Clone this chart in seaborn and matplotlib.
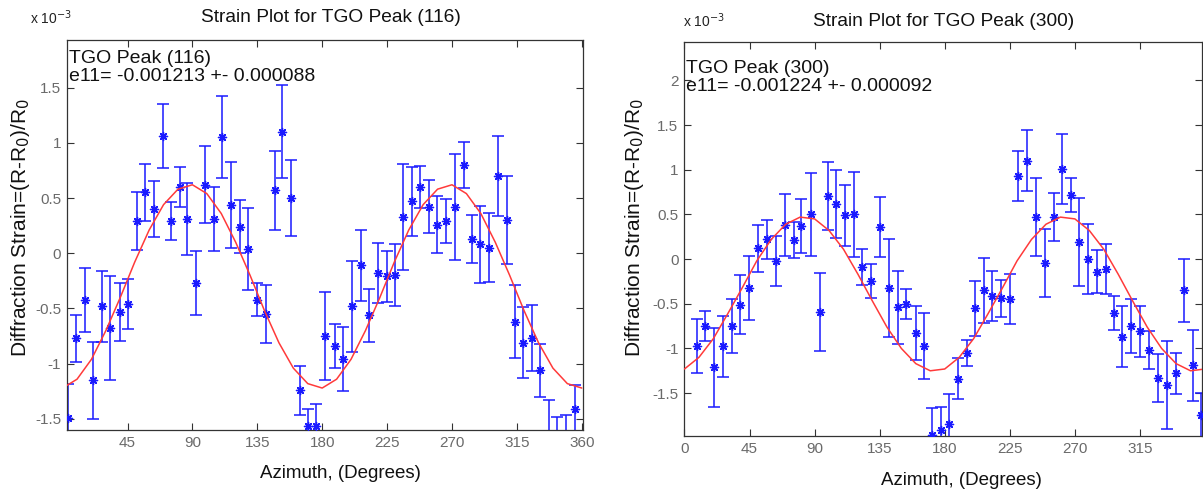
import numpy as np
import pandas as pd
import matplotlib
matplotlib.use('Agg')
import matplotlib.pyplot as plt
import seaborn as sns

# values in units of 1e-3 strain
az_116 = [3.9, 9.2, 15.5, 21.2, 27.4, 33.2, 39.7, 45.4, 51.7, 57.4, 63.4, 69.7, 75.4, 81.2, 86.5,
          92.3, 99.0, 104.8, 110.8, 116.5, 122.7, 128.5, 134.8, 140.8, 147.0, 152.3, 158.5, 164.3,
          170.1, 175.8, 182.1, 188.6, 194.6, 200.8, 207.0, 212.8, 218.6, 224.6, 230.8, 236.1, 242.3,
          248.1, 253.9, 259.7, 265.9, 271.9, 278.1, 283.9, 289.7, 295.4, 301.9, 308.1, 313.9, 319.2,
          325.4, 331.2, 337.6, 343.1, 349.1, 355.4]
strain_116 = [-1.49, -0.77, -0.42, -1.15, -0.48, -0.68, -0.53, -0.46, 0.29, 0.55, 0.40, 1.06, 0.29,
              0.60, 0.31, -0.27, 0.62, 0.31, 1.05, 0.44, 0.24, 0.04, -0.42, -0.55, 0.57, 1.10, 0.50,
              -1.24, -1.56, -1.56, -0.75, -0.84, -0.96, -0.48, -0.11, -0.56, -0.18, -0.21, -0.20,
              0.33, 0.47, 0.60, 0.42, 0.26, 0.29, 0.42, 0.80, 0.13, 0.08, 0.05, 0.70, 0.30, -0.62,
              -0.81, -0.77, -1.06, -1.70, -1.70, -1.68, -1.41]
err_116 = [0.31, 0.21, 0.29, 0.35, 0.32, 0.47, 0.26, 0.23, 0.26, 0.26, 0.25, 0.29, 0.17, 0.18, 0.33,
           0.29, 0.35, 0.29, 0.37, 0.39, 0.24, 0.37, 0.15, 0.26, 0.36, 0.42, 0.34, 0.22, 0.15, 0.20,
           0.40, 0.20, 0.29, 0.41, 0.32, 0.24, 0.27, 0.23, 0.28, 0.48, 0.31, 0.19, 0.24, 0.26, 0.20,
           0.48, 0.21, 0.22, 0.35, 0.31, 0.36, 0.40, 0.33, 0.32, 0.30, 0.24, 0.37, 0.22, 0.22, 0.22]

az_300 = [8.5, 14.5, 20.3, 26.5, 32.8, 38.5, 44.5, 51.2, 57.0, 63.5, 69.2, 75.5, 80.8, 87.7, 93.5,
          99.5, 105.0, 111.0, 117.0, 123.0, 129.2, 135.5, 141.5, 147.7, 153.5, 159.9, 165.7, 171.5,
          177.3, 182.8, 189.0, 195.5, 200.8, 207.0, 212.8, 218.8, 224.8, 230.8, 237.0, 243.3, 249.3,
          255.5, 261.3, 267.5, 273.2, 279.2, 285.0, 291.2, 297.0, 302.8, 309.0, 315.0, 321.3, 327.5,
          333.5, 339.7, 345.5, 351.7, 357.5]
strain_300 = [-0.975, -0.75, -1.21, -0.975, -0.75, -0.51, -0.32, 0.12, 0.22, -0.02, 0.38, 0.21, 0.37,
              0.50, -0.59, 0.71, 0.62, 0.49, 0.50, -0.09, -0.24, 0.36, -0.32, -0.54, -0.50, -0.83,
              -0.975, -1.97, -1.91, -1.85, -1.34, -1.05, -0.55, -0.35, -0.41, -0.44, -0.45, 0.93, 1.10,
              0.47, -0.04, 0.47, 1.01, 0.72, 0.19, 0.00, -0.14, -0.11, -0.60, -0.87, -0.75, -0.81,
              -1.02, -1.33, -1.41, -1.28, -0.35, -1.19, -1.75]
err_300 = [0.30, 0.17, 0.44, 0.34, 0.30, 0.33, 0.36, 0.26, 0.22, 0.28, 0.35, 0.20, 0.30, 0.46, 0.44,
           0.38, 0.38, 0.34, 0.48, 0.20, 0.19, 0.34, 0.55, 0.41, 0.17, 0.30, 0.37, 0.30, 0.26, 0.34,
           0.23, 0.15, 0.31, 0.36, 0.28, 0.21, 0.28, 0.28, 0.34, 0.44, 0.38, 0.27, 0.39, 0.19, 0.49,
           0.39, 0.24, 0.28, 0.19, 0.34, 0.30, 0.29, 0.21, 0.27, 0.49, 0.23, 0.35, 0.40, 0.25]

# red fitted curves, read every 10 degrees
fit_az = list(range(0, 361, 10))
fit_116 = [-1.22, -1.14, -0.96, -0.70, -0.40, -0.08, 0.21, 0.44, 0.58, 0.62, 0.54, 0.36, 0.10,
           -0.20, -0.52, -0.81, -1.04, -1.18, -1.22, -1.14, -0.96, -0.70, -0.40, -0.08, 0.21,
           0.44, 0.58, 0.62, 0.54, 0.36, 0.10, -0.20, -0.52, -0.81, -1.04, -1.18, -1.22]
fit_300 = [-1.23, -1.10, -0.89, -0.61, -0.32, -0.02, 0.22, 0.39, 0.47, 0.45, 0.32, 0.11, -0.17,
           -0.47, -0.76, -1.00, -1.17, -1.25, -1.23, -1.10, -0.89, -0.61, -0.32, -0.02, 0.22,
           0.39, 0.47, 0.45, 0.32, 0.11, -0.17, -0.47, -0.76, -1.00, -1.17, -1.25, -1.23]

peaks = ["(116)", "(300)"]
e11_text = ["e11= -0.001213 +- 0.000088", "e11= -0.001224 +- 0.000092"]
x_ticks_116 = [45, 90, 135, 180, 225, 270, 315, 360]
x_ticks_300 = [0, 45, 90, 135, 180, 225, 270, 315]
y_ticks_116 = [-1.5, -1, -0.5, 0, 0.5, 1, 1.5]
y_ticks_300 = [-1.5, -1, -0.5, 0, 0.5, 1, 1.5, 2]

sns.set_theme(style="ticks")
plt.rcParams['font.family'] = ['Liberation Sans', 'DejaVu Sans']

fig = plt.figure(figsize=(12.03, 4.9), dpi=100)
ax1 = fig.add_axes([0.0554, 0.1224, 0.4294, 0.7959])
ax2 = fig.add_axes([0.5686, 0.1102, 0.4303, 0.8041])

panels = [
    (ax1, az_116, strain_116, err_116, fit_116, x_ticks_116, y_ticks_116, (2.8, 361), (-1.60, 1.93), 0.975),
    (ax2, az_300, strain_300, err_300, fit_300, x_ticks_300, y_ticks_300, (-0.3, 357.7), (-1.98, 2.43), 0.955),
]

blue = "#1a1aff"
for i, (ax, az, st, er, fit, xt, yt, xl, yl, ty) in enumerate(panels):
    pts = pd.DataFrame({"az": az, "strain": st, "err": er})
    ax.errorbar(pts["az"], pts["strain"], yerr=pts["err"], fmt="none", ecolor=blue,
                elinewidth=1.1, capsize=4, capthick=1.1, zorder=2)
    sns.scatterplot(data=pts, x="az", y="strain", ax=ax, marker=(8, 2, 0), s=34,
                    color=blue, linewidth=1.0, edgecolor=blue, zorder=3, legend=False)
    curve = pd.DataFrame({"az": fit_az, "fit": fit})
    sns.lineplot(data=curve, x="az", y="fit", ax=ax, color="#ff3a3a", linewidth=1.1, zorder=4)
    ax.set_xticks(xt)
    ax.set_xticklabels([str(v) for v in xt])
    ax.set_yticks(yt)
    ax.set_yticklabels([("%g" % v) for v in yt])
    ax.set_xlim(*xl)
    ax.set_ylim(*yl)
    ax.set_xlabel("")
    ax.set_ylabel("")
    ax.tick_params(direction="in", length=5, width=0.8, top=True, right=True,
                   labelsize=11, labelcolor="#6a6a6a", color="#333333", pad=4)
    for s in ax.spines.values():
        s.set_color("#333333")
        s.set_linewidth(0.9)
        s.set_visible(True)
    ax.text(0.004, ty, "TGO Peak " + peaks[i] + "\n" + e11_text[i],
            transform=ax.transAxes, ha="left", va="top", fontsize=14, color="#111111",
            linespacing=1.1)

W, H = 1203, 490
def ftext(px, py, s, **kw):
    fig.text(px / W, 1 - py / H, s, **kw)

ftext(30, 18, r"x 10$^{-3}$", fontsize=10, ha="left", va="center", color="#222222")
ftext(331, 18, "Strain Plot for TGO Peak (116)", fontsize=13.8, ha="center", va="center", color="#111111")
ftext(683, 21, r"x 10$^{-3}$", fontsize=10, ha="left", va="center", color="#222222")
ftext(944, 21, "Strain Plot for TGO Peak (300)", fontsize=13.8, ha="center", va="center", color="#111111")
ylab = "Diffraction Strain=(R-R$_0$)/R$_0$"
ftext(21, 227, ylab, fontsize=15, rotation=90, ha="center", va="center", color="#111111")
ftext(635, 227, ylab, fontsize=15, rotation=90, ha="center", va="center", color="#111111")
ftext(340, 473, "Azimuth, (Degrees)", fontsize=13.5, ha="center", va="center", color="#111111")
ftext(961, 480, "Azimuth, (Degrees)", fontsize=13.5, ha="center", va="center", color="#111111")

plt.savefig("out.png", dpi=100)
plt.clf()
